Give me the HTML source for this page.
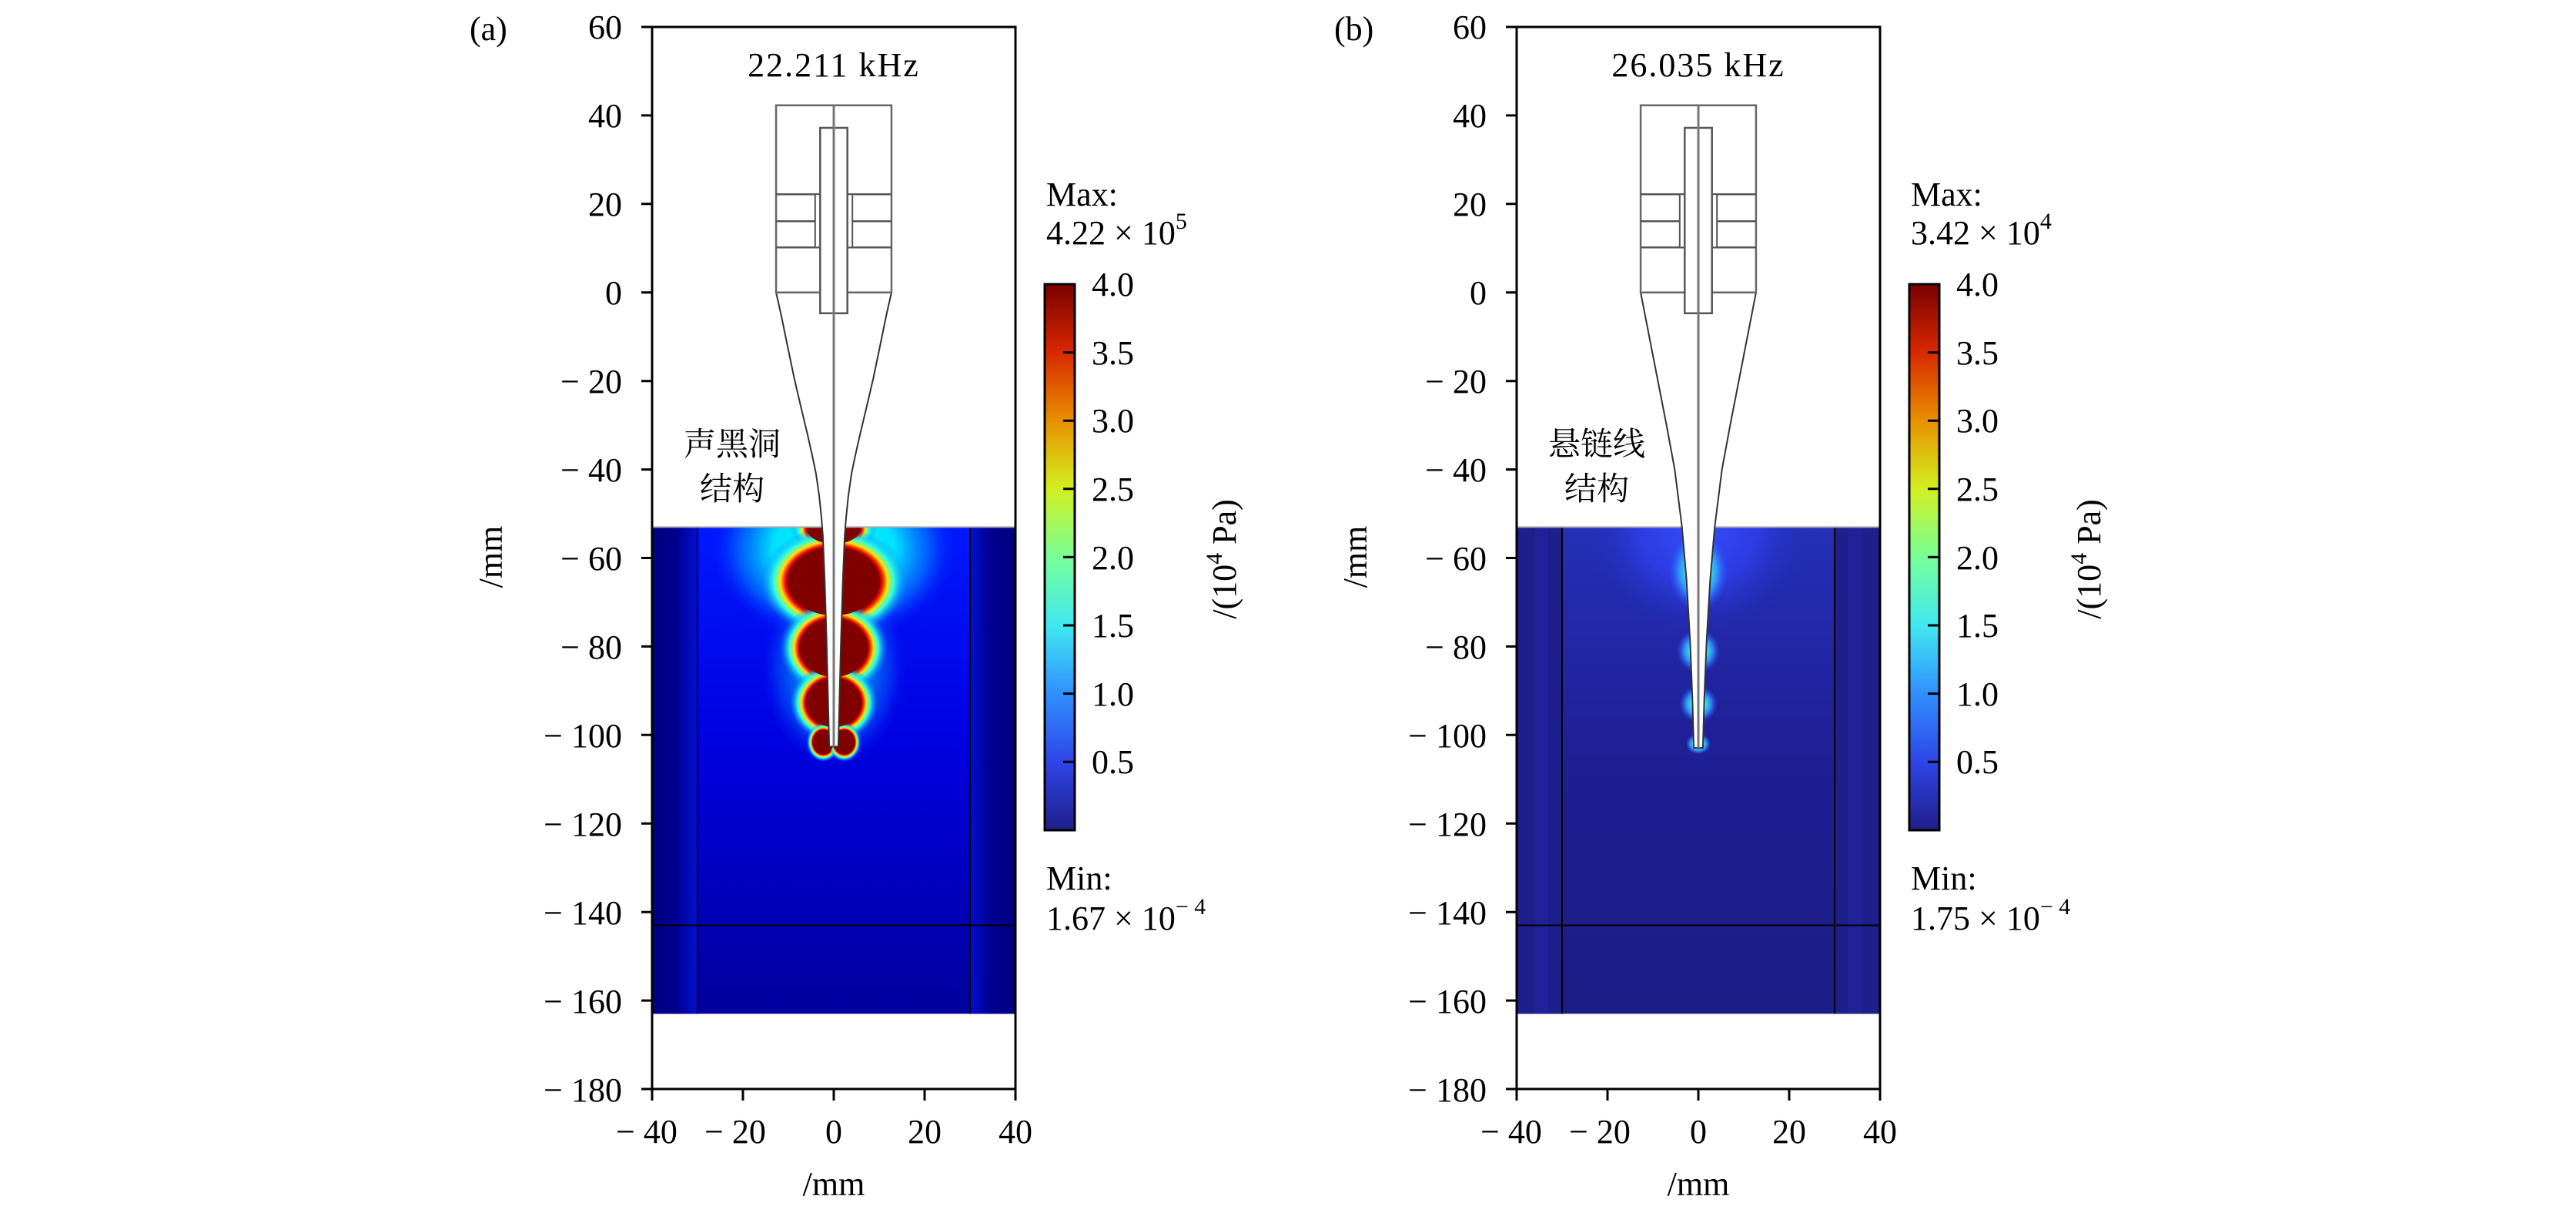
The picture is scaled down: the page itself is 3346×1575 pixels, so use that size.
<!DOCTYPE html>
<html><head><meta charset="utf-8"><style>
html,body{margin:0;padding:0;background:#fff;}
svg{display:block}
text{font-family:"Liberation Serif","DejaVu Serif",serif;fill:#000}
.cjk{font-family:"Liberation Serif","Noto Serif CJK SC","Noto Sans CJK SC",serif}
</style></head><body>
<svg width="3346" height="1575" viewBox="0 0 3346 1575" xmlns="http://www.w3.org/2000/svg">
<defs>
 <linearGradient id="cbar" x1="0" y1="1" x2="0" y2="0">
  <stop offset="0" stop-color="#1f1f88"/>
  <stop offset="0.125" stop-color="#2f45e8"/>
  <stop offset="0.25" stop-color="#3090ff"/>
  <stop offset="0.375" stop-color="#40e8f0"/>
  <stop offset="0.5" stop-color="#78ff98"/>
  <stop offset="0.625" stop-color="#d2f020"/>
  <stop offset="0.75" stop-color="#e89000"/>
  <stop offset="0.875" stop-color="#d82800"/>
  <stop offset="1" stop-color="#7a0000"/>
 </linearGradient>
 <radialGradient id="lobe">
  <stop offset="0" stop-color="#800000"/>
  <stop offset="0.62" stop-color="#800000"/>
  <stop offset="0.67" stop-color="#ff1000"/>
  <stop offset="0.73" stop-color="#ffe000"/>
  <stop offset="0.82" stop-color="#30ffe0"/>
  <stop offset="1" stop-color="#0080ff" stop-opacity="0"/>
 </radialGradient>
 <radialGradient id="glowA">
  <stop offset="0" stop-color="#00ffff"/>
  <stop offset="0.5" stop-color="#00e0ff"/>
  <stop offset="0.78" stop-color="#0070ff" stop-opacity="0.75"/>
  <stop offset="1" stop-color="#0020ff" stop-opacity="0"/>
 </radialGradient>
 <linearGradient id="bgA" x1="0" y1="1" x2="0" y2="0">
  <stop offset="0" stop-color="#0018ff"/>
  <stop offset="0.45" stop-color="#0000e0"/>
  <stop offset="1" stop-color="#00009c"/>
 </linearGradient>
 <linearGradient id="sideA" x1="0" y1="0" x2="1" y2="0">
  <stop offset="0" stop-color="#000080"/>
  <stop offset="0.55" stop-color="#000090"/>
  <stop offset="1" stop-color="#0010d0"/>
 </linearGradient>
 <linearGradient id="sideA2" x1="1" y1="0" x2="0" y2="0">
  <stop offset="0" stop-color="#000080"/>
  <stop offset="0.55" stop-color="#000090"/>
  <stop offset="1" stop-color="#0010d0"/>
 </linearGradient>
 <linearGradient id="bgB" x1="0" y1="1" x2="0" y2="0">
  <stop offset="0" stop-color="#2430b8"/>
  <stop offset="0.45" stop-color="#1f1f96"/>
  <stop offset="1" stop-color="#1c1c86"/>
 </linearGradient>
 <radialGradient id="glowB">
  <stop offset="0" stop-color="#3550ff"/>
  <stop offset="0.55" stop-color="#3040f0" stop-opacity="0.75"/>
  <stop offset="1" stop-color="#2030c0" stop-opacity="0"/>
 </radialGradient>
 <radialGradient id="smallB">
  <stop offset="0" stop-color="#f0f000"/>
  <stop offset="0.35" stop-color="#40f0e0"/>
  <stop offset="0.65" stop-color="#30a0ff" stop-opacity="0.85"/>
  <stop offset="1" stop-color="#3050ff" stop-opacity="0"/>
 </radialGradient>
 <clipPath id="dataclip"><rect x="-40" y="-163" width="80" height="110"/></clipPath>
</defs>

<g transform="translate(1083,379.8) scale(5.9,-5.746)">
 <g clip-path="url(#dataclip)">
  <rect x="-40" y="-163" width="80" height="110" fill="url(#bgA)"/>
  <rect x="-40" y="-163" width="10" height="110" fill="url(#sideA)"/>
  <rect x="30" y="-163" width="10" height="110" fill="url(#sideA2)"/>
  <ellipse cx="0" cy="-58" rx="27" ry="21" fill="url(#glowA)"/>
  <ellipse cx="0" cy="-85" rx="16" ry="22" fill="url(#glowA)" opacity="0.5"/>
  <ellipse cx="0" cy="-53.5" rx="9.4" ry="5.3" fill="url(#lobe)"/>
  <ellipse cx="0" cy="-65.3" rx="16.1" ry="12.4" fill="url(#lobe)"/>
  <ellipse cx="0" cy="-80.3" rx="11.9" ry="10.6" fill="url(#lobe)"/>
  <ellipse cx="0" cy="-92.7" rx="9.7" ry="8.9" fill="url(#lobe)"/>
  <ellipse cx="-2.3" cy="-101.6" rx="3.7" ry="4.4" fill="url(#lobe)"/>
  <ellipse cx="2.3" cy="-101.6" rx="3.7" ry="4.4" fill="url(#lobe)"/>
  <g fill="#800000">
   <ellipse cx="0" cy="-53.5" rx="5.8" ry="3.3"/>
   <ellipse cx="0" cy="-65.3" rx="10" ry="7.7"/>
   <ellipse cx="0" cy="-80.3" rx="7.4" ry="6.6"/>
   <ellipse cx="0" cy="-92.7" rx="6" ry="5.5"/>
   <ellipse cx="-2.3" cy="-101.6" rx="2.3" ry="2.7"/>
   <ellipse cx="2.3" cy="-101.6" rx="2.3" ry="2.7"/>
  </g>
 </g>
 <g fill="none">
  <line x1="-30" y1="-53" x2="-30" y2="-163" stroke="#000" stroke-width="2" vector-effect="non-scaling-stroke"/>
  <line x1="30" y1="-53" x2="30" y2="-163" stroke="#000" stroke-width="2" vector-effect="non-scaling-stroke"/>
  <line x1="-40" y1="-143" x2="40" y2="-143" stroke="#000" stroke-width="2" vector-effect="non-scaling-stroke"/>
  <line x1="-40" y1="-53" x2="40" y2="-53" stroke="#aaa" stroke-width="2" vector-effect="non-scaling-stroke"/>
  <polygon fill="#fff" stroke="#333" stroke-width="2" vector-effect="non-scaling-stroke"
   points="12.7,0 11.6,-5 10.2,-12 8.7,-19.4 7.2,-26 5.8,-32 4.7,-37 3.9,-41 3.2,-46 2.7,-51 2.4,-55 2.0,-65 1.6,-78 1.3,-90 1.0,-102.6 -1.0,-102.6 -1.3,-90 -1.6,-78 -2.0,-65 -2.4,-55 -2.7,-51 -3.2,-46 -3.9,-41 -4.7,-37 -5.8,-32 -7.2,-26 -8.7,-19.4 -10.2,-12 -11.6,-5 -12.7,0"/>
  <rect x="-12.7" y="0" width="25.4" height="42.3" fill="#fff" stroke="#666" stroke-width="2.5" vector-effect="non-scaling-stroke"/>
  <line x1="-12.7" y1="22.2" x2="12.7" y2="22.2" stroke="#555" stroke-width="2.5" vector-effect="non-scaling-stroke"/>
  <line x1="-12.7" y1="16.1" x2="12.7" y2="16.1" stroke="#555" stroke-width="2.5" vector-effect="non-scaling-stroke"/>
  <line x1="-12.7" y1="10.2" x2="12.7" y2="10.2" stroke="#555" stroke-width="2.5" vector-effect="non-scaling-stroke"/>
  <rect x="-4.1" y="10.2" width="8.2" height="12" fill="#fff" stroke="#555" stroke-width="2" vector-effect="non-scaling-stroke"/>
  <rect x="-3" y="-4.7" width="6" height="41.9" fill="#fff" stroke="#555" stroke-width="2.5" vector-effect="non-scaling-stroke"/>
  <line x1="0" y1="42.3" x2="0" y2="-102.6" stroke="#777" stroke-width="3" vector-effect="non-scaling-stroke"/>
 </g>
</g>
<g stroke="#000" stroke-width="3" fill="none">
 <rect x="847" y="35" width="472" height="1379"/>
 <path d="M833 35H847M833 149.9H847M833 264.8H847M833 379.7H847M833 494.7H847M833 609.6H847M833 724.5H847M833 839.4H847M833 954.3H847M833 1069.2H847M833 1184.2H847M833 1299.1H847M833 1414H847"/>
 <path d="M847 1414V1429M965 1414V1429M1083 1414V1429M1201 1414V1429M1319 1414V1429"/>
</g>
<g font-size="44" text-anchor="end">
 <text x="808" y="50">60</text><text x="808" y="165">40</text><text x="808" y="280">20</text><text x="808" y="395">0</text>
 <text x="808" y="510">− 20</text><text x="808" y="625">− 40</text><text x="808" y="740">− 60</text><text x="808" y="855">− 80</text>
 <text x="808" y="970">− 100</text><text x="808" y="1085">− 120</text><text x="808" y="1200">− 140</text><text x="808" y="1315">− 160</text><text x="808" y="1430">− 180</text>
</g>
<g font-size="44" text-anchor="middle">
 <text x="840" y="1484">− 40</text><text x="955" y="1484">− 20</text><text x="1083" y="1484">0</text><text x="1201" y="1484">20</text><text x="1319" y="1484">40</text>
 <text x="1083" y="1552">/mm</text>
 <text x="1083" y="99" letter-spacing="2">22.211 kHz</text>
</g>
<text font-size="44" x="637" y="723" text-anchor="middle" transform="rotate(-90 637 723)" dy="15">/mm</text>
<text font-size="44" x="610" y="52">(a)</text>
<text class="cjk" font-size="42" x="951" y="591" text-anchor="middle">声黑洞</text>
<text class="cjk" font-size="42" x="951" y="649" text-anchor="middle">结构</text>
<text font-size="44" x="1359" y="267">Max:</text>
<text font-size="44" x="1359" y="317">4.22 × 10<tspan font-size="30" dy="-20">5</tspan></text>
<rect x="1357" y="369" width="39" height="709" fill="url(#cbar)" stroke="#000" stroke-width="3"/>
<path d="M1381 457.6H1396M1381 546.2H1396M1381 634.8H1396M1381 723.4H1396M1381 812H1396M1381 900.6H1396M1381 989.2H1396" stroke="#000" stroke-width="3"/>
<g font-size="44"><text x="1418" y="384">4.0</text><text x="1418" y="473">3.5</text><text x="1418" y="561">3.0</text><text x="1418" y="650">2.5</text><text x="1418" y="739">2.0</text><text x="1418" y="827">1.5</text><text x="1418" y="916">1.0</text><text x="1418" y="1004">0.5</text></g>
<text font-size="44" x="1590" y="726" text-anchor="middle" transform="rotate(-90 1590 726)" dy="15">/(10<tspan font-size="30" dy="-18">4</tspan><tspan dy="18"> Pa)</tspan></text>
<text font-size="44" x="1359" y="1155">Min:</text>
<text font-size="44" x="1359" y="1207">1.67 × 10<tspan font-size="30" dy="-20">− 4</tspan></text>

<g transform="translate(2206,379.8) scale(5.9,-5.746)">
 <g clip-path="url(#dataclip)">
  <rect x="-40" y="-163" width="80" height="110" fill="url(#bgB)"/>
  <rect x="-40" y="-163" width="10" height="110" fill="#1e1e8c"/>
  <rect x="30" y="-163" width="10" height="110" fill="#1e1e8c"/>
  <rect x="-36" y="-163" width="3" height="110" fill="#2424a0" opacity="0.6"/>
  <rect x="33" y="-163" width="3" height="110" fill="#2424a0" opacity="0.6"/>
  <ellipse cx="0" cy="-53" rx="24" ry="24" fill="url(#glowB)"/>
  <ellipse cx="0" cy="-63" rx="6.5" ry="9" fill="url(#smallB)"/>
  <ellipse cx="0" cy="-81" rx="4.8" ry="5" fill="url(#smallB)"/>
  <ellipse cx="0" cy="-93" rx="4.2" ry="4.2" fill="url(#smallB)"/>
  <ellipse cx="0" cy="-102" rx="2.8" ry="2.4" fill="url(#smallB)"/>
 </g>
 <g fill="none">
  <line x1="-30" y1="-53" x2="-30" y2="-163" stroke="#000" stroke-width="2" vector-effect="non-scaling-stroke"/>
  <line x1="30" y1="-53" x2="30" y2="-163" stroke="#000" stroke-width="2" vector-effect="non-scaling-stroke"/>
  <line x1="-40" y1="-143" x2="40" y2="-143" stroke="#000" stroke-width="2" vector-effect="non-scaling-stroke"/>
  <line x1="-40" y1="-53" x2="40" y2="-53" stroke="#aaa" stroke-width="2" vector-effect="non-scaling-stroke"/>
  <polygon fill="#fff" stroke="#333" stroke-width="2" vector-effect="non-scaling-stroke"
   points="12.7,0 10.8,-10 8.9,-20 7,-30 5.2,-40 3.6,-53 2.6,-65 1.8,-79 1.3,-92 1.0,-102.9 -1.0,-102.9 -1.3,-92 -1.8,-79 -2.6,-65 -3.6,-53 -5.2,-40 -7,-30 -8.9,-20 -10.8,-10 -12.7,0"/>
  <rect x="-12.7" y="0" width="25.4" height="42.3" fill="#fff" stroke="#666" stroke-width="2.5" vector-effect="non-scaling-stroke"/>
  <line x1="-12.7" y1="22.2" x2="12.7" y2="22.2" stroke="#555" stroke-width="2.5" vector-effect="non-scaling-stroke"/>
  <line x1="-12.7" y1="16.1" x2="12.7" y2="16.1" stroke="#555" stroke-width="2.5" vector-effect="non-scaling-stroke"/>
  <line x1="-12.7" y1="10.2" x2="12.7" y2="10.2" stroke="#555" stroke-width="2.5" vector-effect="non-scaling-stroke"/>
  <rect x="-4.1" y="10.2" width="8.2" height="12" fill="#fff" stroke="#555" stroke-width="2" vector-effect="non-scaling-stroke"/>
  <rect x="-3" y="-4.7" width="6" height="41.9" fill="#fff" stroke="#555" stroke-width="2.5" vector-effect="non-scaling-stroke"/>
  <line x1="0" y1="42.3" x2="0" y2="-102.9" stroke="#777" stroke-width="3" vector-effect="non-scaling-stroke"/>
 </g>
</g>
<g transform="translate(1123,0)">
<g stroke="#000" stroke-width="3" fill="none">
 <rect x="847" y="35" width="472" height="1379"/>
 <path d="M833 35H847M833 149.9H847M833 264.8H847M833 379.7H847M833 494.7H847M833 609.6H847M833 724.5H847M833 839.4H847M833 954.3H847M833 1069.2H847M833 1184.2H847M833 1299.1H847M833 1414H847"/>
 <path d="M847 1414V1429M965 1414V1429M1083 1414V1429M1201 1414V1429M1319 1414V1429"/>
</g>
<g font-size="44" text-anchor="end">
 <text x="808" y="50">60</text><text x="808" y="165">40</text><text x="808" y="280">20</text><text x="808" y="395">0</text>
 <text x="808" y="510">− 20</text><text x="808" y="625">− 40</text><text x="808" y="740">− 60</text><text x="808" y="855">− 80</text>
 <text x="808" y="970">− 100</text><text x="808" y="1085">− 120</text><text x="808" y="1200">− 140</text><text x="808" y="1315">− 160</text><text x="808" y="1430">− 180</text>
</g>
<g font-size="44" text-anchor="middle">
 <text x="840" y="1484">− 40</text><text x="955" y="1484">− 20</text><text x="1083" y="1484">0</text><text x="1201" y="1484">20</text><text x="1319" y="1484">40</text>
 <text x="1083" y="1552">/mm</text>
 <text x="1083" y="99" letter-spacing="2">26.035 kHz</text>
</g>
<text font-size="44" x="637" y="723" text-anchor="middle" transform="rotate(-90 637 723)" dy="15">/mm</text>
<text font-size="44" x="610" y="52">(b)</text>
<text class="cjk" font-size="42" x="951" y="591" text-anchor="middle">悬链线</text>
<text class="cjk" font-size="42" x="951" y="649" text-anchor="middle">结构</text>
<text font-size="44" x="1359" y="267">Max:</text>
<text font-size="44" x="1359" y="317">3.42 × 10<tspan font-size="30" dy="-20">4</tspan></text>
<rect x="1357" y="369" width="39" height="709" fill="url(#cbar)" stroke="#000" stroke-width="3"/>
<path d="M1381 457.6H1396M1381 546.2H1396M1381 634.8H1396M1381 723.4H1396M1381 812H1396M1381 900.6H1396M1381 989.2H1396" stroke="#000" stroke-width="3"/>
<g font-size="44"><text x="1418" y="384">4.0</text><text x="1418" y="473">3.5</text><text x="1418" y="561">3.0</text><text x="1418" y="650">2.5</text><text x="1418" y="739">2.0</text><text x="1418" y="827">1.5</text><text x="1418" y="916">1.0</text><text x="1418" y="1004">0.5</text></g>
<text font-size="44" x="1590" y="726" text-anchor="middle" transform="rotate(-90 1590 726)" dy="15">/(10<tspan font-size="30" dy="-18">4</tspan><tspan dy="18"> Pa)</tspan></text>
<text font-size="44" x="1359" y="1155">Min:</text>
<text font-size="44" x="1359" y="1207">1.75 × 10<tspan font-size="30" dy="-20">− 4</tspan></text>
</g>
</svg>
</body></html>
